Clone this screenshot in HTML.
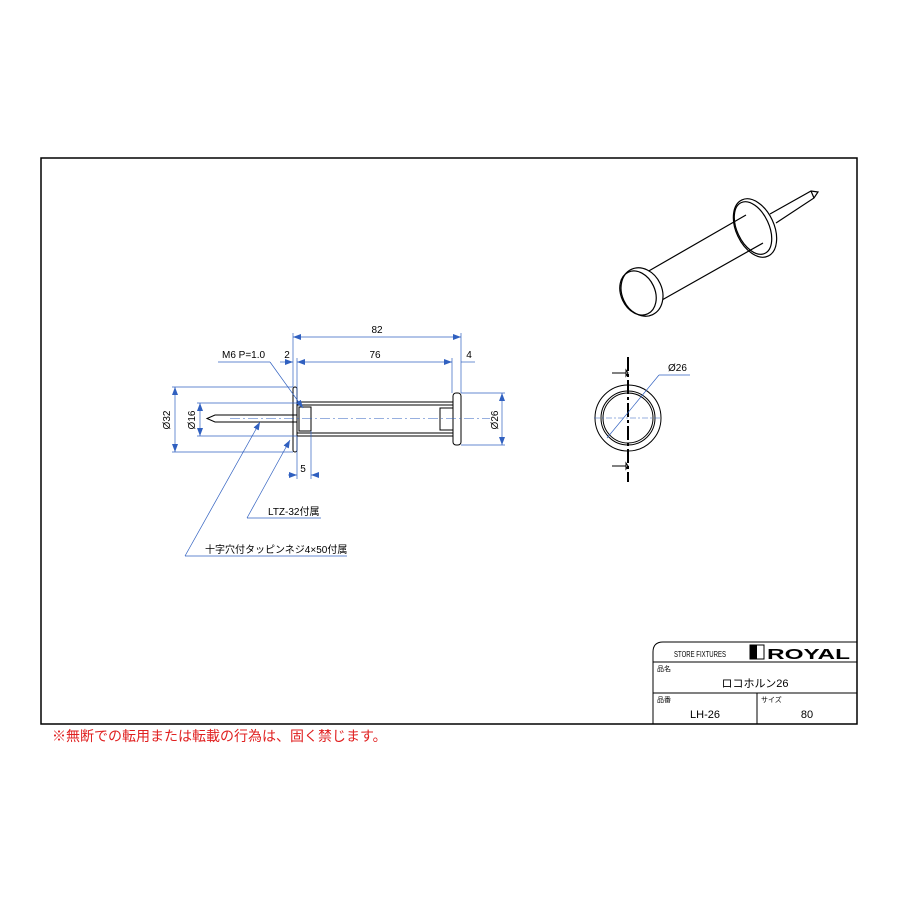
<!DOCTYPE html>
<html><head><meta charset="utf-8"><style>
body{margin:0;background:#fff}
svg{display:block}
text{font-family:"Liberation Sans","Noto Sans CJK JP",sans-serif}
</style></head><body>
<svg width="900" height="900" viewBox="0 0 900 900" xmlns="http://www.w3.org/2000/svg">
<defs>
<marker id="a" markerWidth="8" markerHeight="6" refX="8" refY="3" orient="auto-start-reverse" markerUnits="userSpaceOnUse"><path d="M0,0 L8,3 L0,6z" fill="#3060c0"/></marker>
</defs>
<rect x="41" y="158" width="816" height="566" fill="none" stroke="#000" stroke-width="1.5"/>
<g stroke="#000" fill="none" stroke-width="1">
<path d="M653,724 V652 Q653,642 663,642 H857"/>
<line x1="653" y1="662" x2="857" y2="662"/>
<line x1="653" y1="693" x2="857" y2="693"/>
<line x1="757" y1="693" x2="757" y2="724"/>
</g>
<text x="674" y="657" font-size="8" textLength="52" lengthAdjust="spacingAndGlyphs">STORE FIXTURES</text>
<rect x="750" y="645" width="14" height="14" fill="#fff" stroke="#000"/><rect x="750" y="645" width="7" height="14" fill="#000"/>
<text x="767" y="659" font-size="15" font-weight="bold" textLength="83" lengthAdjust="spacingAndGlyphs">ROYAL</text>
<text x="657" y="671" font-size="7">品名</text>
<text x="755" y="687" font-size="11" text-anchor="middle">ロコホルン26</text>
<text x="657" y="702" font-size="7">品番</text>
<text x="705" y="718" font-size="11" text-anchor="middle">LH-26</text>
<text x="761" y="702" font-size="7">サイズ</text>
<text x="807" y="718" font-size="11" text-anchor="middle">80</text>
<text x="52" y="741" font-size="14" fill="#e02020">※無断での転用または転載の行為は、固く禁じます。</text>
<g stroke="#000" fill="none" stroke-width="1">
<rect x="293" y="387" width="4" height="65" rx="2"/>
<rect x="297" y="402" width="156" height="34"/>
<line x1="297" y1="405" x2="453" y2="405"/><line x1="297" y1="433" x2="453" y2="433"/>
<rect x="453" y="393" width="8" height="52" rx="3"/>
<rect x="440" y="408" width="13" height="22"/>
<path d="M297,415 H215 L207,418.5 L215,422 H297"/>
<rect x="299" y="407" width="12" height="24"/>
</g>
<line x1="230" y1="418.5" x2="490" y2="418.5" stroke="#3060c0" stroke-width="0.6" stroke-dasharray="10,3,2,3"/>
<g stroke="#3060c0" stroke-width="0.7" fill="none">
<line x1="293" y1="333" x2="293" y2="387"/><line x1="461" y1="333" x2="461" y2="393"/>
<line x1="293" y1="337" x2="461" y2="337" marker-start="url(#a)" marker-end="url(#a)"/>
<line x1="297" y1="358" x2="297" y2="402"/><line x1="452" y1="358" x2="452" y2="393"/>
<line x1="297" y1="362" x2="452" y2="362" marker-start="url(#a)" marker-end="url(#a)"/>
<line x1="280" y1="362" x2="293" y2="362" marker-end="url(#a)"/>
<line x1="461" y1="362" x2="475" y2="362"/>
<line x1="218" y1="362" x2="270" y2="362"/><line x1="270" y1="362" x2="303" y2="408" marker-end="url(#a)"/>
<line x1="172" y1="387" x2="293" y2="387"/><line x1="172" y1="452" x2="293" y2="452"/>
<line x1="175" y1="387" x2="175" y2="452" marker-start="url(#a)" marker-end="url(#a)"/>
<line x1="197" y1="403" x2="297" y2="403"/><line x1="197" y1="436" x2="297" y2="436"/>
<line x1="200" y1="403" x2="200" y2="436" marker-start="url(#a)" marker-end="url(#a)"/>
<line x1="461" y1="393" x2="505" y2="393"/><line x1="461" y1="445" x2="505" y2="445"/>
<line x1="502" y1="393" x2="502" y2="445" marker-start="url(#a)" marker-end="url(#a)"/>
<line x1="297" y1="436" x2="297" y2="479"/><line x1="311" y1="431" x2="311" y2="479"/>
<line x1="288" y1="475" x2="297" y2="475" marker-end="url(#a)"/><line x1="318" y1="475" x2="311" y2="475" marker-end="url(#a)"/>
<line x1="247" y1="518" x2="321" y2="518"/><line x1="247" y1="518" x2="290" y2="440" marker-end="url(#a)"/>
<line x1="185" y1="556" x2="347" y2="556"/><line x1="185" y1="556" x2="260" y2="422" marker-end="url(#a)"/>
</g>
<g font-size="10" fill="#000">
<text x="377" y="333" text-anchor="middle">82</text>
<text x="375" y="358" text-anchor="middle">76</text>
<text x="287" y="358" text-anchor="middle">2</text>
<text x="469" y="358" text-anchor="middle">4</text>
<text x="222" y="358">M6 P=1.0</text>
<text x="303" y="472" text-anchor="middle">5</text>
<text x="268" y="515">LTZ-32付属</text>
<text x="205" y="553">十字穴付タッピンネジ4×50付属</text>
<text transform="translate(170,420) rotate(-90)" text-anchor="middle">Ø32</text>
<text transform="translate(195,420) rotate(-90)" text-anchor="middle">Ø16</text>
<text transform="translate(498,420) rotate(-90)" text-anchor="middle">Ø26</text>
<text x="668" y="371">Ø26</text>
</g>
<g stroke="#000" fill="none" stroke-width="1">
<circle cx="628" cy="418" r="33"/>
<circle cx="628" cy="418" r="27"/><circle cx="628" cy="418" r="25"/>
<line x1="628" y1="357" x2="628" y2="482" stroke-width="2" stroke-dasharray="14,3,3,3"/>
<line x1="612" y1="373" x2="626" y2="373"/><path d="M626,370 L628,373 L626,376z"/>
<line x1="612" y1="466" x2="626" y2="466"/><path d="M626,463 L628,466 L626,469z"/>
</g>
<line x1="594" y1="418" x2="662" y2="418" stroke="#3060c0" stroke-width="0.6" stroke-dasharray="6,2,2,2"/>
<g stroke="#3060c0" stroke-width="0.7"><line x1="607" y1="438" x2="659" y2="375"/><line x1="659" y1="375" x2="690" y2="375"/></g>
<g stroke="#000" fill="none" stroke-width="1.2">
<path d="M770,214 L811,191 L818,192 L814,198 L776,223" fill="#fff"/>
<line x1="811" y1="191" x2="814" y2="198"/>
<ellipse cx="755" cy="228" rx="19" ry="31" transform="rotate(-25 755 228)" fill="#fff"/>
<ellipse cx="753" cy="228" rx="16" ry="28" transform="rotate(-25 753 228)"/>
<path d="M647,272 L746,215 M662,300 L763,243"/>
<ellipse cx="642" cy="292" rx="20" ry="25" transform="rotate(-25 642 292)" fill="#fff"/>
<ellipse cx="638" cy="293" rx="17" ry="23" transform="rotate(-25 638 293)"/>
</g>
</svg>
</body></html>
